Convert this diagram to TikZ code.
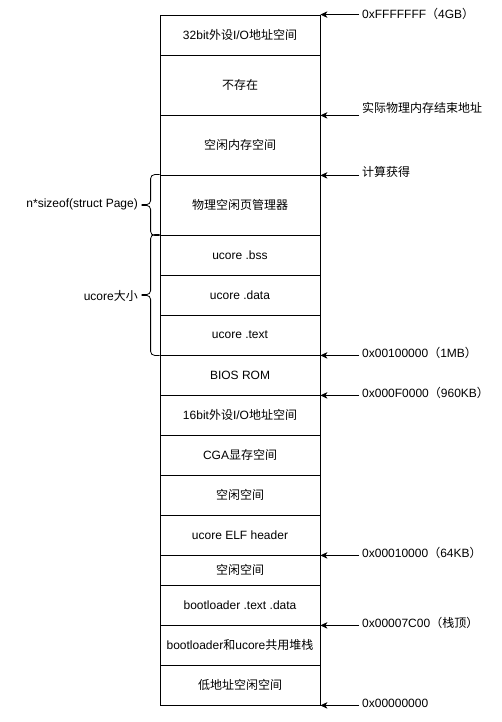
\documentclass[tikz,border=0pt]{standalone}
\usepackage{fontspec}
\setmainfont{Liberation Sans}
\newfontfamily\cjk{Noto Sans CJK SC}
\usetikzlibrary{arrows.meta}

\begin{document}
\begin{tikzpicture}[
  x=1pt, y=-1pt,
  font=\fontsize{12}{14}\selectfont,
  mnode/.style={draw,rectangle,minimum width=160pt,inner sep=0pt,line width=0.8pt},
  anode/.style={anchor=west,inner xsep=3pt,inner ysep=0pt},
  bnode/.style={anchor=east,inner xsep=3pt,inner ysep=0pt},
  addr/.style={-{Stealth[length=7pt,width=6.5pt,inset=2pt]},line width=0.8pt},
  brc/.style={rounded corners=4pt,line width=0.8pt}
]
  \useasboundingbox (0,0) rectangle (501,722);

  % memory regions
  \node[mnode,minimum height=40pt] (m1) at (240,35) {32bit{\cjk 外设}I/O{\cjk 地址空间}};
  \node[mnode,minimum height=60pt] (m2) at (240,85) {{\cjk 不存在}};
  \node[mnode,minimum height=60pt] (m3) at (240,145) {{\cjk 空闲内存空间}};
  \node[mnode,minimum height=60pt] (m4) at (240,205) {{\cjk 物理空闲页管理器}};
  \node[mnode,minimum height=40pt] (m5) at (240,255) {ucore .bss};
  \node[mnode,minimum height=40pt] (m6) at (240,295) {ucore .data};
  \node[mnode,minimum height=40pt] (m7) at (240,335) {ucore .text};
  \node[mnode,minimum height=40pt] (m8) at (240,375) {BIOS ROM};
  \node[mnode,minimum height=40pt] (m9) at (240,415) {16bit{\cjk 外设}I/O{\cjk 地址空间}};
  \node[mnode,minimum height=40pt] (m10) at (240,455) {CGA{\cjk 显存空间}};
  \node[mnode,minimum height=40pt] (m11) at (240,495) {{\cjk 空闲空间}};
  \node[mnode,minimum height=40pt] (m12) at (240,535) {ucore ELF header};
  \node[mnode,minimum height=30pt] (m13) at (240,570) {{\cjk 空闲空间}};
  \node[mnode,minimum height=40pt] (m14) at (240,605) {bootloader .text .data};
  \node[mnode,minimum height=40pt] (m15) at (240,645) {bootloader{\cjk 和}ucore{\cjk 共用堆栈}};
  \node[mnode,minimum height=40pt] (m16) at (240,685) {{\cjk 低地址空闲空间}};

  % addresses
  \node[anode] (a1) at (359,14) {0xFFFFFFF{\cjk （}4GB{\cjk ）}};
  \node[anode] (a2) at (359,108) {{\cjk 实际物理内存结束地址}};
  \node[anode] (a3) at (359,172) {{\cjk 计算获得}};
  \node[anode] (a4) at (359,353) {0x00100000{\cjk （}1MB{\cjk ）}};
  \node[anode] (a5) at (359,393) {0x000F0000{\cjk （}960KB{\cjk ）}};
  \node[anode] (a6) at (359,553) {0x00010000{\cjk （}64KB{\cjk ）}};
  \node[anode] (a7) at (359,623) {0x00007C00{\cjk （栈顶）}};
  \node[anode] (a8) at (359,703) {0x00000000};

  \draw[addr] (a1.west |- m1.north east) -- (m1.north east);
  \draw[addr] (a2.west |- m2.south east) -- (m2.south east);
  \draw[addr] (a3.west |- m3.south east) -- (m3.south east);
  \draw[addr] (a4.west |- m7.south east) -- (m7.south east);
  \draw[addr] (a5.west |- m8.south east) -- (m8.south east);
  \draw[addr] (a6.west |- m12.south east) -- (m12.south east);
  \draw[addr] (a7.west |- m14.south east) -- (m14.south east);
  \draw[addr] (a8.west |- m16.south east) -- (m16.south east);

  % braces
  \draw[brc] (m4.north west) -- ++(-9,0) -- ++(0,30) -- ++(-9,0);
  \draw[brc] (m4.south west) -- ++(-9,0) -- ++(0,-30) -- ++(-9,0);
  \draw[brc] (m5.north west) -- ++(-9,0) -- ++(0,60) -- ++(-9,0);
  \draw[brc] (m7.south west) -- ++(-9,0) -- ++(0,-60) -- ++(-9,0);

  \node[bnode] (b1) at (141,204) {n*sizeof(struct Page)};
  \node[bnode] (b2) at (141,296) {ucore{\cjk 大小}};
\end{tikzpicture}
\end{document}
